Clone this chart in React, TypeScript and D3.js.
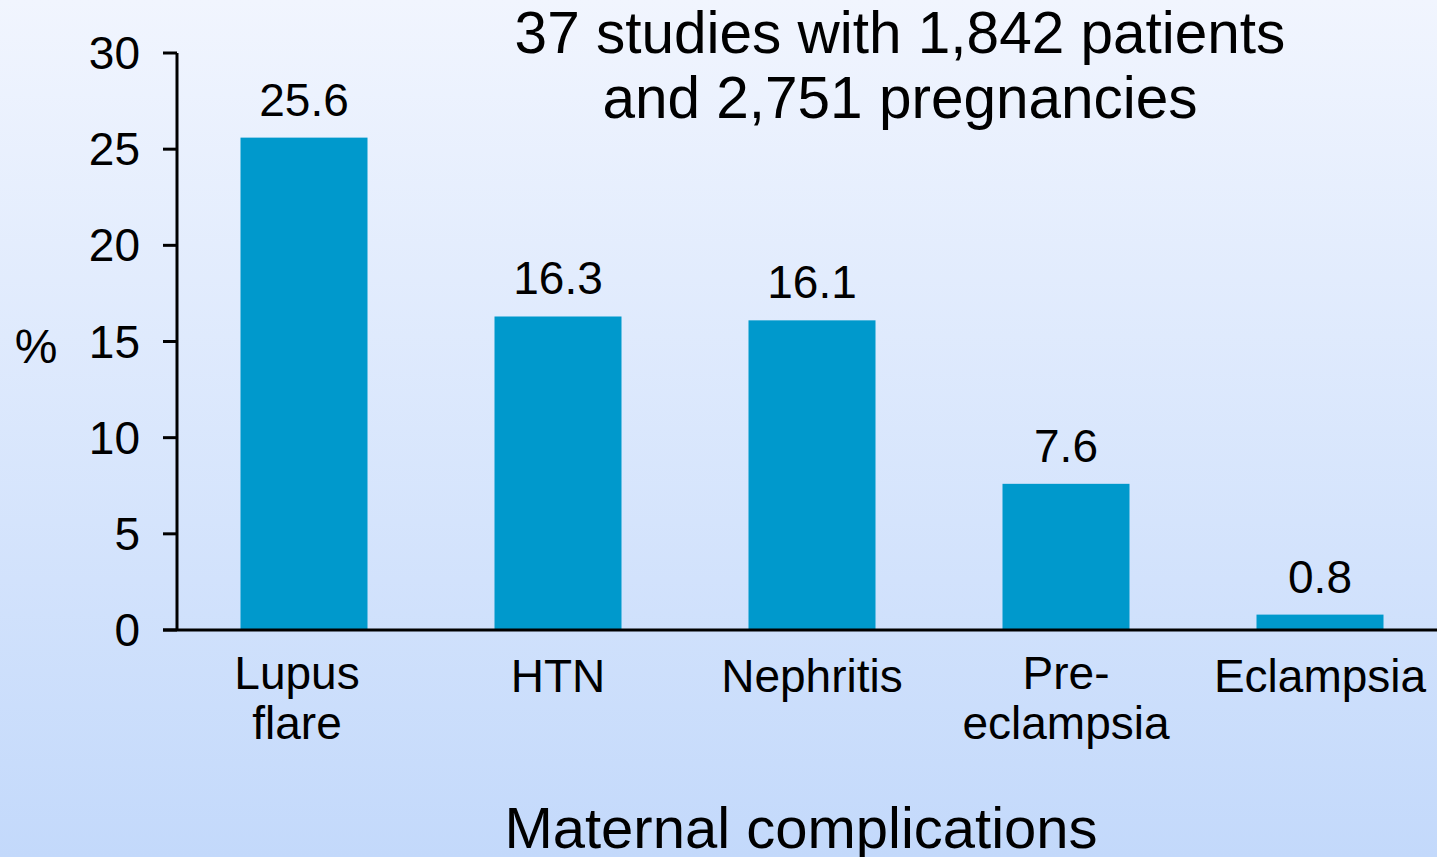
import React, { useEffect } from "react";
import * as d3 from "d3";

const categories: string[][] = [["Lupus", "flare"], ["HTN"], ["Nephritis"], ["Pre-", "eclampsia"], ["Eclampsia"]];
const values: number[] = [25.6, 16.3, 16.1, 7.6, 0.8];
const valueLabels: string[] = ["25.6", "16.3", "16.1", "7.6", "0.8"];
const yTicks: number[] = [0, 5, 10, 15, 20, 25, 30];
const titleLines: string[] = ["37 studies with 1,842 patients", "and 2,751 pregnancies"];
const xTitle = "Maternal complications";
const yTitle = "%";

const W = 1437;
const H = 857;
const FONT = "'Liberation Sans', Arial, Helvetica, sans-serif";
const BAR = "#0099cc";

export default function App() {
  useEffect(() => {
    document.body.style.margin = "0";
  }, []);

  const keys = categories.map((c) => c.join(" "));
  const x = d3.scaleBand<string>().domain(keys).range([177, 1447]).paddingInner(0.5).paddingOuter(0.25);
  const y = d3.scaleLinear().domain([0, 30]).range([630, 53]);

  return (
    <svg width={W} height={H} style={{ display: "block", position: "absolute", left: 0, top: 0 }} fontFamily={FONT}>
      <defs>
        <linearGradient id="bg" x1="0" y1="0" x2="0" y2="1">
          <stop offset="0" stopColor="#f1f5fe" />
          <stop offset="1" stopColor="#c3d9fb" />
        </linearGradient>
      </defs>
      <rect x={0} y={0} width={W} height={H} fill="url(#bg)" />

      {/* bars */}
      {values.map((v, i) => (
        <rect key={keys[i]} x={x(keys[i])} y={y(v)} width={x.bandwidth()} height={y(0) - y(v)} fill={BAR} />
      ))}

      {/* value labels */}
      {values.map((v, i) => (
        <text key={"v" + i} x={(x(keys[i]) as number) + x.bandwidth() / 2} y={y(v) - 22} textAnchor="middle" fontSize={46} fill="#000">
          {valueLabels[i]}
        </text>
      ))}

      {/* y axis */}
      <line x1={177} x2={177} y1={y(30)} y2={y(0)} stroke="#000" strokeWidth={3} />
      {yTicks.map((t) => (
        <g key={"t" + t}>
          <line x1={163} x2={177} y1={y(t)} y2={y(t)} stroke="#000" strokeWidth={3} />
          <text x={140} y={y(t)} dy="0.35em" textAnchor="end" fontSize={46} fill="#000">
            {t}
          </text>
        </g>
      ))}
      {/* x axis */}
      <line x1={163} x2={W} y1={y(0)} y2={y(0)} stroke="#000" strokeWidth={3} />

      {/* category labels */}
      {categories.map((lines, i) => {
        const cx = (x(keys[i]) as number) + x.bandwidth() / 2 + (i === 0 ? -7 : 0);
        const first = lines.length > 1 ? 689 : 692;
        return (
          <text key={"c" + i} x={cx} y={first} textAnchor="middle" fontSize={46} fill="#000">
            {lines.map((l, j) => (
              <tspan key={j} x={cx} y={first + j * 50}>
                {l}
              </tspan>
            ))}
          </text>
        );
      })}

      {/* y title */}
      <text x={36} y={363} textAnchor="middle" fontSize={48} fill="#000">
        {yTitle}
      </text>

      {/* x title */}
      <text x={801} y={848} textAnchor="middle" fontSize={58} fill="#000">
        {xTitle}
      </text>

      {/* chart title */}
      {titleLines.map((l, i) => (
        <text key={"h" + i} x={900} y={53 + i * 65} textAnchor="middle" fontSize={58.5} fill="#000">
          {l}
        </text>
      ))}
    </svg>
  );
}
